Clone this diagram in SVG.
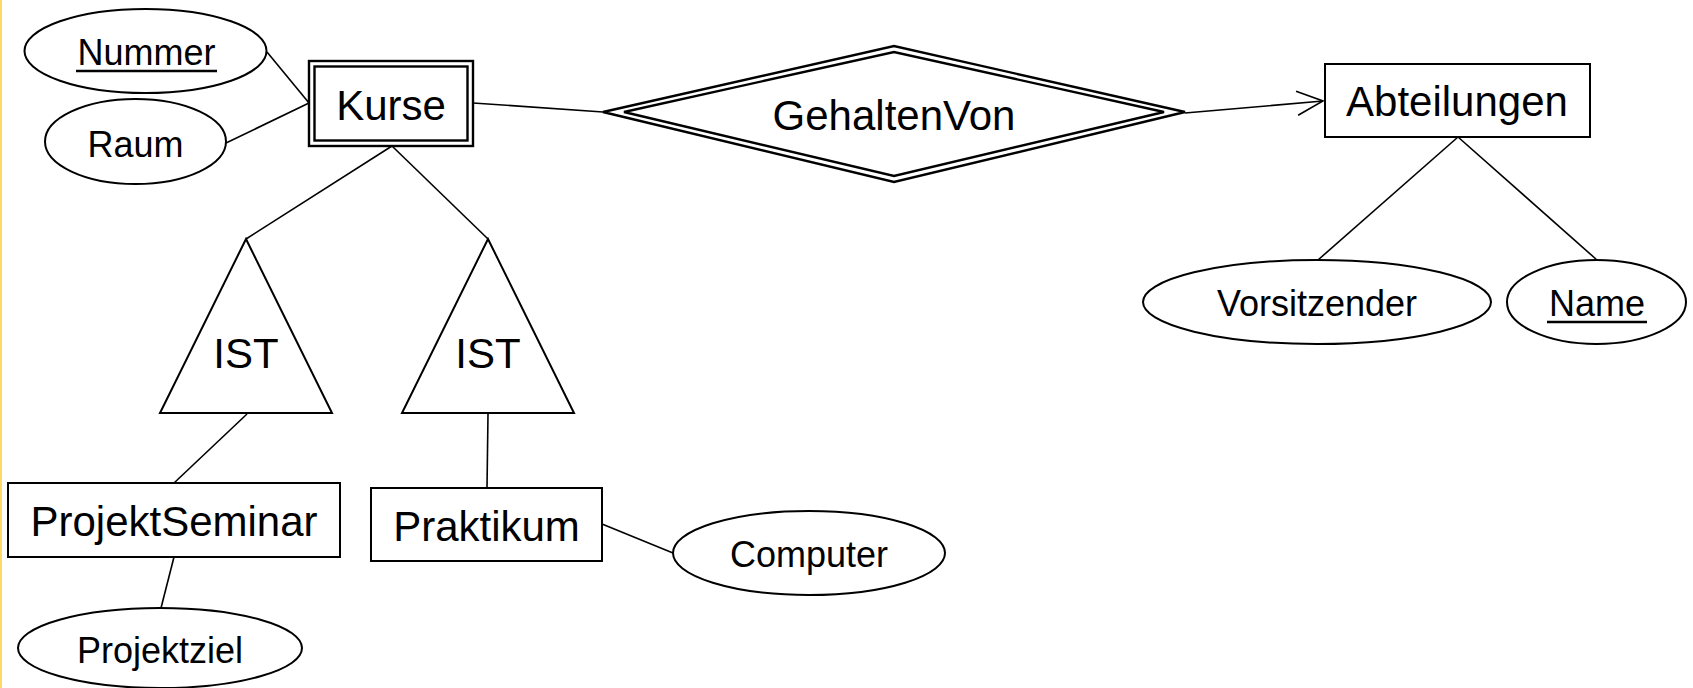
<svg xmlns="http://www.w3.org/2000/svg" width="1693" height="688" viewBox="0 0 1693 688">
<style>
  .shape { fill: #ffffff; stroke: #000000; stroke-width: 2; }
  .dbl { fill: #ffffff; stroke: #000000; stroke-width: 2.4; }
  .conn { fill: none; stroke: #000000; stroke-width: 1.6; }
  .big { font-family: "Liberation Sans", Arial, sans-serif; font-size: 42px; fill: #000000; text-anchor: middle; }
  .small { font-family: "Liberation Sans", Arial, sans-serif; font-size: 36px; fill: #000000; text-anchor: middle; }
  .ul { stroke: #000000; stroke-width: 2.4; }
</style>
<defs>
  <marker id="open" viewBox="0 0 30 30" refX="28" refY="15" markerWidth="30" markerHeight="30" markerUnits="userSpaceOnUse" orient="auto">
    <path d="M2,3 L28,15 L2,27" fill="none" stroke="#000000" stroke-width="1.6"/>
  </marker>
</defs>
<rect x="0" y="0" width="1693" height="688" fill="#ffffff"/>
<rect x="0" y="0" width="2" height="688" fill="#FFD966"/>

<g id="connectors">
  <line class="conn" x1="267" y1="52" x2="309" y2="103"/>
  <line class="conn" x1="226" y1="143" x2="309" y2="103"/>
  <line class="conn" x1="473" y1="103" x2="603" y2="112"/>
  <line class="conn" x1="1185" y1="113" x2="1323" y2="101" marker-end="url(#open)"/>
  <line class="conn" x1="392" y1="146" x2="246" y2="239"/>
  <line class="conn" x1="392" y1="146" x2="488" y2="239"/>
  <line class="conn" x1="247" y1="414" x2="174" y2="483"/>
  <line class="conn" x1="488" y1="414" x2="487" y2="488"/>
  <line class="conn" x1="174" y1="557" x2="161" y2="608"/>
  <line class="conn" x1="602" y1="524" x2="673" y2="553"/>
  <line class="conn" x1="1458" y1="137" x2="1318" y2="260"/>
  <line class="conn" x1="1458" y1="137" x2="1597" y2="260"/>
</g>

<g id="nummer">
  <ellipse class="shape" cx="145.5" cy="51" rx="121" ry="42"/>
  <text class="small" x="146.5" y="65">Nummer</text>
  <line class="ul" x1="76" y1="71" x2="217" y2="71"/>
</g>

<g id="raum">
  <ellipse class="shape" cx="135.5" cy="141.5" rx="90.5" ry="42.5"/>
  <text class="small" x="135.5" y="157">Raum</text>
</g>

<g id="kurse">
  <rect class="dbl" x="309" y="61" width="164" height="85"/>
  <rect class="dbl" x="314.5" y="66.5" width="153" height="74"/>
  <text class="big" x="391" y="120">Kurse</text>
</g>

<g id="gehaltenvon">
  <polygon class="dbl" points="603,112 894,46 1185,112 894,182"/>
  <polygon class="dbl" points="624,112 894,52 1164,112 894,176"/>
  <text class="big" x="894" y="130">GehaltenVon</text>
</g>

<g id="abteilungen">
  <rect class="shape" x="1325" y="64" width="265" height="73"/>
  <text class="big" x="1457" y="116">Abteilungen</text>
</g>

<g id="vorsitzender">
  <ellipse class="shape" cx="1317" cy="302" rx="174" ry="42"/>
  <text class="small" x="1317" y="316">Vorsitzender</text>
</g>

<g id="name">
  <ellipse class="shape" cx="1596.5" cy="302" rx="89.5" ry="42"/>
  <text class="small" x="1597" y="316">Name</text>
  <line class="ul" x1="1547" y1="322" x2="1647" y2="322"/>
</g>

<g id="ist1">
  <polygon class="shape" points="246,239 332,413 160,413"/>
  <text class="big" x="246" y="368">IST</text>
</g>

<g id="ist2">
  <polygon class="shape" points="488,239 574,413 402,413"/>
  <text class="big" x="488" y="368">IST</text>
</g>

<g id="projektseminar">
  <rect class="shape" x="8" y="483" width="332" height="74"/>
  <text class="big" x="174" y="536">ProjektSeminar</text>
</g>

<g id="praktikum">
  <rect class="shape" x="371" y="488" width="231" height="73"/>
  <text class="big" x="486.5" y="541">Praktikum</text>
</g>

<g id="projektziel">
  <ellipse class="shape" cx="160" cy="648" rx="142" ry="40"/>
  <text class="small" x="160" y="663">Projektziel</text>
</g>

<g id="computer">
  <ellipse class="shape" cx="809" cy="553" rx="136" ry="42"/>
  <text class="small" x="809" y="567">Computer</text>
</g>
</svg>
